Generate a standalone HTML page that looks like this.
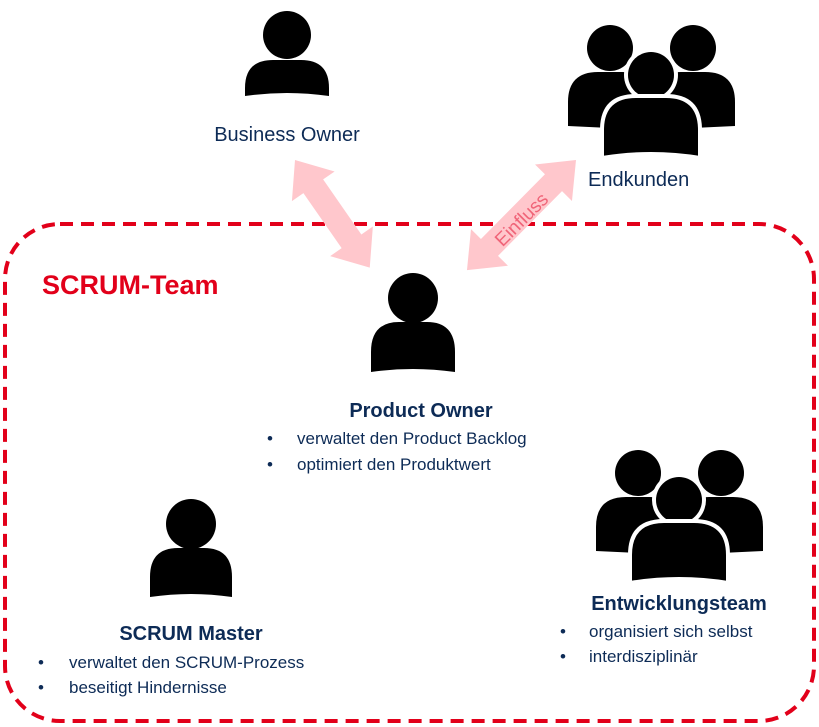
<!DOCTYPE html>
<html><head><meta charset="utf-8"><style>
body{margin:0;background:#fff;}
svg{display:block;font-family:"Liberation Sans",sans-serif;}
</style></head><body>
<svg width="819" height="727" viewBox="0 0 819 727">
<defs>
<g id="grp">
  <circle cx="610" cy="48" r="23"/>
  <path d="M568,126 L568,102 Q568,72 598,72 L622,72 Q652,72 652,102 L652,130 Z"/>
  <circle cx="693" cy="48" r="23"/>
  <path d="M651,130 L651,102 Q651,72 681,72 L705,72 Q735,72 735,102 L735,126 Z"/>
  <circle cx="651" cy="75" r="27" fill="#fff"/>
  <circle cx="651" cy="75" r="23"/>
  <path d="M602,158 L602,130 Q602,96 636,96 L666,96 Q700,96 700,130 L700,158 Q651,150 602,158 Z" fill="#000" stroke="#fff" stroke-width="4"/>
</g>
</defs>
<rect x="5" y="224" width="809" height="497" rx="55" fill="none" stroke="#e2001a" stroke-width="4" stroke-dasharray="13 8"/>

<g transform="translate(295,160) rotate(55.2)" fill="#ffc7cc">
  <polygon points="0,0 32,-26 32,-12 99,-12 99,-26 131,0 99,26 99,12 32,12 32,26"/>
</g>
<g transform="translate(576,160) rotate(134.7)" fill="#ffc7cc">
  <polygon points="0,0 32,-26 32,-12 123,-12 123,-26 155,0 123,26 123,12 32,12 32,26"/>
</g>
<text x="0" y="0" font-size="19" fill="#f06478" text-anchor="middle" transform="translate(526,224) rotate(-45)">Einfluss</text>

<g fill="#000">
  <circle cx="287" cy="35" r="24"/>
  <path d="M245,96 L245,88 Q245,60 273,60 L301,60 Q329,60 329,88 L329,96 Q287,90 245,96 Z"/>
  <circle cx="413" cy="298" r="25"/>
  <path d="M371,372 L371,352 Q371,322 399,322 L427,322 Q455,322 455,352 L455,372 Q413,366 371,372 Z"/>
  <circle cx="191" cy="524" r="25"/>
  <path d="M150,597 L150,577 Q150,548 178,548 L204,548 Q232,548 232,577 L232,597 Q191,591 150,597 Z"/>
  <use href="#grp"/>
  <use href="#grp" transform="translate(28,425)"/>
</g>

<g fill="#0d2b56" font-size="20">
<text x="287" y="141" text-anchor="middle">Business Owner</text>
<text x="588" y="186">Endkunden</text>
<text x="421" y="417" text-anchor="middle" font-weight="bold">Product Owner</text>
<text x="191" y="640" text-anchor="middle" font-weight="bold">SCRUM Master</text>
<text x="679" y="610" text-anchor="middle" font-weight="bold">Entwicklungsteam</text>
</g>
<text x="42" y="294" font-size="27" font-weight="bold" fill="#e2001a">SCRUM-Team</text>
<g fill="#0d2b56" font-size="17">
<text x="267" y="444">•</text><text x="297" y="444">verwaltet den Product Backlog</text>
<text x="267" y="470">•</text><text x="297" y="470">optimiert den Produktwert</text>
<text x="38" y="668">•</text><text x="69" y="668">verwaltet den SCRUM-Prozess</text>
<text x="38" y="693">•</text><text x="69" y="693">beseitigt Hindernisse</text>
<text x="560" y="637">•</text><text x="589" y="637">organisiert sich selbst</text>
<text x="560" y="662">•</text><text x="589" y="662">interdisziplinär</text>
</g>
</svg>
</body></html>
